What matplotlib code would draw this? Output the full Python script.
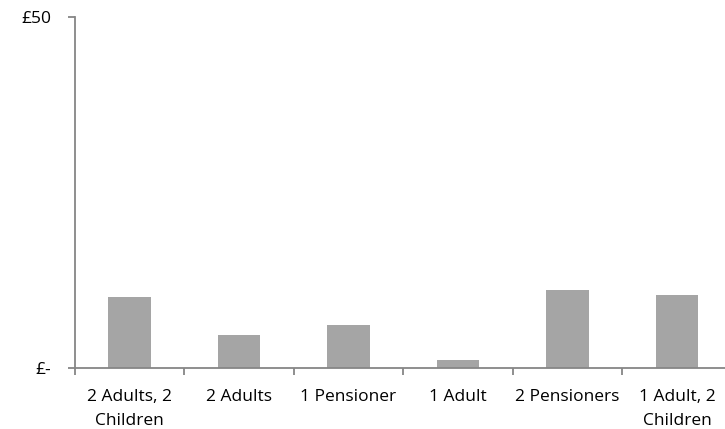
import matplotlib
matplotlib.use("Agg")
import matplotlib.pyplot as plt
from matplotlib.ticker import FixedLocator

categories = ["2 Adults, 2\nChildren", "2 Adults", "1 Pensioner", "1 Adult", "2 Pensioners", "1 Adult, 2\nChildren"]
values = [10.0, 4.7, 6.0, 1.0, 11.1, 10.4]
ytick_values = [0, 50]
ytick_labels = ["£-", "£50"]

plt.rcParams['font.family'] = ['Open Sans', 'DejaVu Sans']

W, H = 725, 429
fig = plt.figure(figsize=(W/100, H/100), dpi=100)
left, right = 74.7, 74.7 + 6*109.5
top, bottom = 17.0, 367.5
ax = fig.add_axes([left/W, 1 - bottom/H, (right-left)/W, (bottom-top)/H])

x = range(len(categories))
ax.bar(x, values, width=0.39, color="#A5A5A5", zorder=2)
ax.set_xlim(-0.5, len(categories) - 0.5)
ax.set_ylim(0, 50)

axis_color = "#868686"
for s in ["top", "right"]:
    ax.spines[s].set_visible(False)
for s in ["left", "bottom"]:
    ax.spines[s].set_color(axis_color)
    ax.spines[s].set_linewidth(1.3)

ax.xaxis.set_major_locator(FixedLocator([i - 0.5 for i in range(len(categories) + 1)]))
ax.xaxis.set_ticklabels([])
ax.xaxis.set_minor_locator(FixedLocator(list(x)))
ax.xaxis.set_ticklabels(categories, minor=True)
ax.tick_params(axis="x", which="major", direction="out", length=5, width=1.3, color=axis_color)
ax.tick_params(axis="x", which="minor", length=0, pad=15.5, labelsize=12.5)
for lbl in ax.xaxis.get_minorticklabels():
    lbl.set_linespacing(1.68)
    lbl.set_verticalalignment("top")

ax.set_yticks(ytick_values)
ax.set_yticklabels(ytick_labels)
ax.tick_params(axis="y", direction="out", length=5, width=1.3, color=axis_color, pad=12, labelsize=12.5)

fig.savefig("out.png", dpi=100)
